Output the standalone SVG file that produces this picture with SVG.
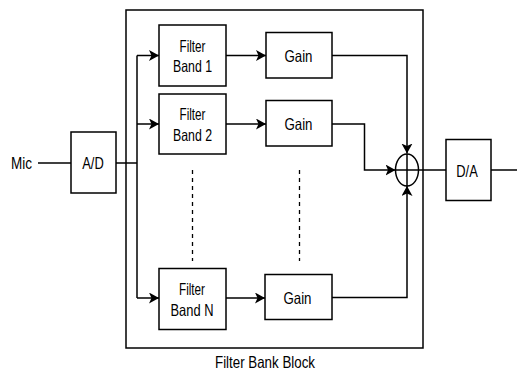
<svg xmlns="http://www.w3.org/2000/svg" width="517" height="374" viewBox="0 0 517 374">
<style>
.box{fill:#fff;stroke:#000;stroke-width:1.5}
.ln{fill:none;stroke:#000;stroke-width:1.5}
.dash{fill:none;stroke:#000;stroke-width:1.3;stroke-dasharray:4,4}
text{font-family:"Liberation Sans",Arial,Helvetica,sans-serif;font-size:16.5px;fill:#000}
.c{text-anchor:middle}
</style>
<defs>
<marker id="arr" markerUnits="userSpaceOnUse" markerWidth="12" markerHeight="12" refX="10" refY="5.5" orient="auto">
<path d="M0,0 L10,5.5 L0,11 L2.5,5.5 z" fill="#000"/>
</marker>
</defs>
<rect id="block" class="box" x="126" y="10" width="297" height="338" fill="none"/>
<g id="connectors">
<line class="ln" x1="38" y1="163" x2="71" y2="163"/>
<path class="ln" d="M116,163 H137"/>
<path class="ln" d="M137,55.5 V298"/>
<path class="ln" d="M137,55.5 H159" marker-end="url(#arr)"/>
<path class="ln" d="M137,124 H159" marker-end="url(#arr)"/>
<path class="ln" d="M137,298 H159" marker-end="url(#arr)"/>
<path class="ln" d="M226,55.5 H266" marker-end="url(#arr)"/>
<path class="ln" d="M226,124 H266" marker-end="url(#arr)"/>
<path class="ln" d="M226,298 H265" marker-end="url(#arr)"/>
<path class="ln" d="M332,55.5 H407 V153.5" marker-end="url(#arr)"/>
<path class="ln" d="M332,124 H364.5 V170 H395.5" marker-end="url(#arr)"/>
<path class="ln" d="M332,297.5 H407 V186" marker-end="url(#arr)"/>
<path class="ln" d="M418.5,170 H446"/>
<path class="ln" d="M491,170 H517"/>
<line class="dash" x1="192.5" y1="170" x2="192.5" y2="261"/>
<line class="dash" x1="299.5" y1="170" x2="299.5" y2="261"/>
</g>
<g id="mic"><text x="11" y="168.5" textLength="21" lengthAdjust="spacingAndGlyphs">Mic</text></g>
<g id="ad"><rect class="box" x="71" y="132" width="45" height="61"/><text class="c" x="93" y="168.5" textLength="21.5" lengthAdjust="spacingAndGlyphs">A/D</text></g>
<g id="fb1"><rect class="box" x="159" y="25" width="67" height="61"/><text class="c" x="192.5" y="51.5" textLength="26" lengthAdjust="spacingAndGlyphs">Filter</text><text class="c" x="192.5" y="71.5" textLength="39" lengthAdjust="spacingAndGlyphs">Band 1</text></g>
<g id="fb2"><rect class="box" x="159" y="94" width="67" height="60"/><text class="c" x="192.5" y="120" textLength="26" lengthAdjust="spacingAndGlyphs">Filter</text><text class="c" x="192.5" y="140.5" textLength="39" lengthAdjust="spacingAndGlyphs">Band 2</text></g>
<g id="fbn"><rect class="box" x="159" y="268.5" width="67" height="61"/><text class="c" x="192" y="294.5" textLength="26" lengthAdjust="spacingAndGlyphs">Filter</text><text class="c" x="192" y="315.5" textLength="43" lengthAdjust="spacingAndGlyphs">Band N</text></g>
<g id="gain1"><rect class="box" x="266" y="32.5" width="66" height="45.5"/><text class="c" x="298.5" y="61.5" textLength="28" lengthAdjust="spacingAndGlyphs">Gain</text></g>
<g id="gain2"><rect class="box" x="266" y="100.5" width="66" height="45.5"/><text class="c" x="298.5" y="130" textLength="28" lengthAdjust="spacingAndGlyphs">Gain</text></g>
<g id="gainn"><rect class="box" x="265" y="274.5" width="67" height="45"/><text class="c" x="297.5" y="303.5" textLength="28" lengthAdjust="spacingAndGlyphs">Gain</text></g>
<g id="sum"><ellipse class="ln" cx="407" cy="170" rx="11.5" ry="16"/><line class="ln" x1="395.5" y1="170" x2="418.5" y2="170"/><line class="ln" x1="407" y1="154" x2="407" y2="186"/></g>
<g id="da"><rect class="box" x="446" y="139.5" width="45" height="61"/><text class="c" x="467" y="176.5" textLength="21.5" lengthAdjust="spacingAndGlyphs">D/A</text></g>
<g id="label"><text class="c" x="265" y="368.3" textLength="100" lengthAdjust="spacingAndGlyphs">Filter Bank Block</text></g>
</svg>
